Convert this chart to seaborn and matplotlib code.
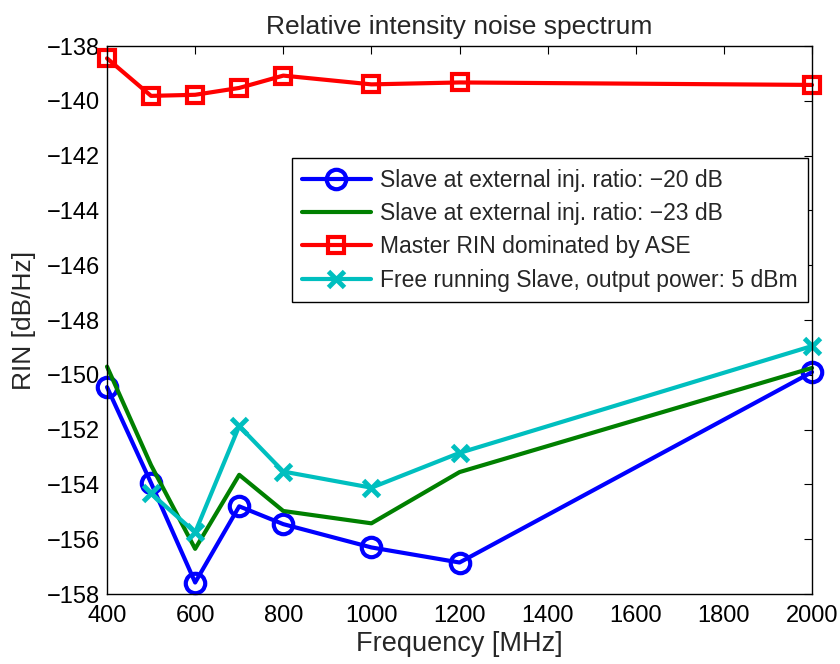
import numpy as np
import pandas as pd
import matplotlib
matplotlib.use("Agg")
import matplotlib.pyplot as plt
import seaborn as sns

# Data
freq_blue = [400, 500, 600, 700, 800, 1000, 1200, 2000]
rin_blue = [-150.45, -153.95, -157.58, -154.8, -155.45, -156.3, -156.85, -149.9]
freq_green = [400, 500, 600, 700, 800, 1000, 1200, 2000]
rin_green = [-149.7, -153.3, -156.35, -153.65, -154.97, -155.42, -153.55, -149.75]
freq_red = [400, 500, 600, 700, 800, 1000, 1200, 2000]
rin_red = [-138.45, -139.82, -139.78, -139.53, -139.08, -139.4, -139.33, -139.42]
freq_cyan = [500, 600, 700, 800, 1000, 1200, 2000]
rin_cyan = [-154.33, -155.75, -151.87, -153.53, -154.12, -152.85, -148.95]

labels = [
    "Slave at external inj. ratio: \u221220 dB",
    "Slave at external inj. ratio: \u221223 dB",
    "Master RIN dominated by ASE",
    "Free running Slave, output power: 5 dBm",
]
xticks = [400, 600, 800, 1000, 1200, 1400, 1600, 1800, 2000]
yticks = list(range(-158, -137, 2))

sns.set_style("white")
plt.rcParams["font.family"] = ["Liberation Sans", "DejaVu Sans"]
plt.rcParams["xtick.direction"] = "in"
plt.rcParams["ytick.direction"] = "in"

fig = plt.figure(figsize=(8.4, 6.64), dpi=100)
ax = fig.add_axes([0.1274, 0.1054, 0.8393, 0.8253])

lw = 3.0
mew = 3.0
sns.lineplot(x=freq_blue, y=rin_blue, ax=ax, color=(0, 0, 1), linewidth=lw,
             marker="o", markersize=14, markerfacecolor="none",
             markeredgecolor=(0, 0, 1), markeredgewidth=mew, label=labels[0])
sns.lineplot(x=freq_green, y=rin_green, ax=ax, color=(0, 0.5, 0), linewidth=lw,
             label=labels[1])
sns.lineplot(x=freq_red, y=rin_red, ax=ax, color=(1, 0, 0), linewidth=lw,
             marker="s", markersize=12, markerfacecolor="none",
             markeredgecolor=(1, 0, 0), markeredgewidth=mew, label=labels[2])
sns.lineplot(x=freq_cyan, y=rin_cyan, ax=ax, color=(0, 0.75, 0.75), linewidth=lw,
             marker="x", markersize=11, markeredgecolor=(0, 0.75, 0.75),
             markeredgewidth=mew + 0.5, label=labels[3])

for ln in ax.lines:
    ln.set_clip_on(False)

ax.set_xlim(400, 2000)
ax.set_ylim(-158, -138)
ax.set_xticks(xticks)
ax.set_yticks(yticks)
ax.tick_params(axis="both", which="both", top=True, right=True, length=6,
               width=0.8, labelsize=17, colors="black", pad=5)
ax.tick_params(axis="x", pad=8)
for s in ax.spines.values():
    s.set_color("black")
    s.set_linewidth(1.0)

ax.set_xlabel("Frequency [MHz]", fontsize=19.5, labelpad=3)
ax.set_ylabel("RIN [dB/Hz]", fontsize=19, labelpad=8)
ax.set_title("Relative intensity noise spectrum", fontsize=19, pad=9)

leg = ax.legend(loc="upper right", bbox_to_anchor=(0.994, 0.795), fontsize=16.5,
                frameon=True, fancybox=False, edgecolor="black", framealpha=1,
                handlelength=3.0, handletextpad=0.4, borderpad=0.45,
                labelspacing=0.45, borderaxespad=0)
leg.get_frame().set_linewidth(1.0)

fig.savefig("out.png", dpi=100)
